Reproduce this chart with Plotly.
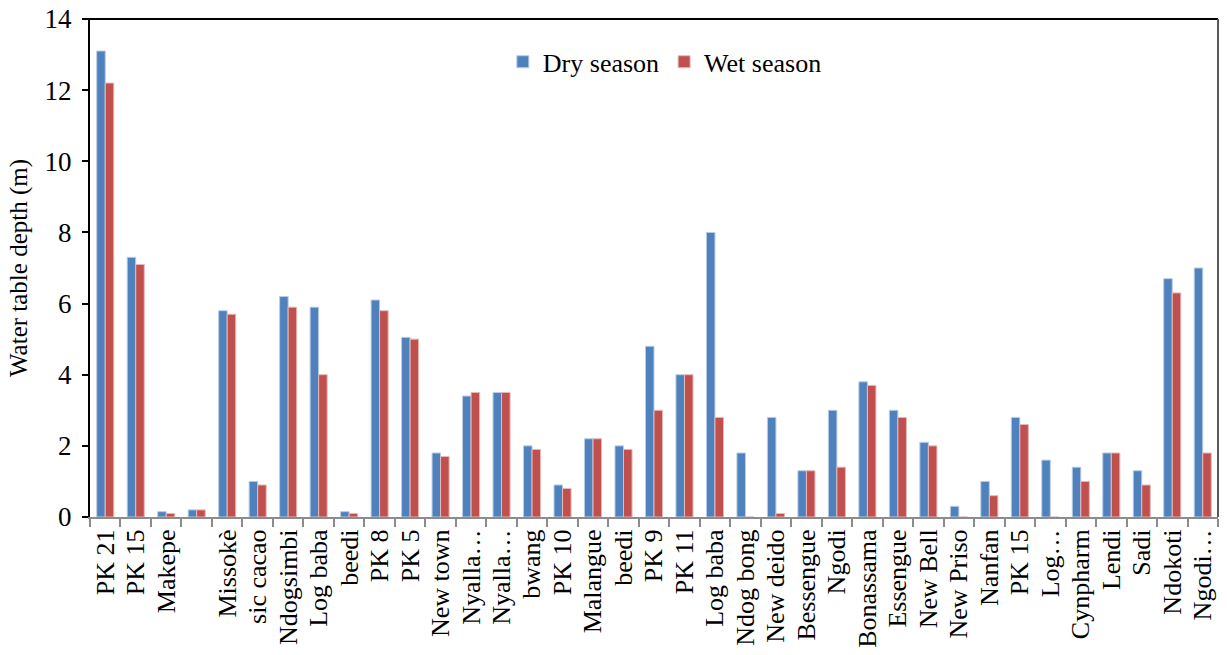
import plotly.graph_objects as go

categories = ["PK 21", "PK 15", "Makepe", "", "Missokè", "sic cacao", "Ndogsimbi", "Log baba",
              "beedi", "PK 8", "PK 5", "New town", "Nyalla…", "Nyalla…", "bwang", "PK 10",
              "Malangue", "beedi", "PK 9", "PK 11", "Log baba", "Ndog bong", "New deido",
              "Bessengue", "Ngodi", "Bonassama", "Essengue", "New Bell", "New Priso", "Nanfan",
              "PK 15", "Log…", "Cynpharm", "Lendi", "Sadi", "Ndokoti", "Ngodi…"]
dry_season = [13.1, 7.3, 0.15, 0.2, 5.8, 1.0, 6.2, 5.9, 0.15, 6.1, 5.05, 1.8, 3.4, 3.5, 2.0, 0.9,
              2.2, 2.0, 4.8, 4.0, 8.0, 1.8, 2.8, 1.3, 3.0, 3.8, 3.0, 2.1, 0.3, 1.0, 2.8, 1.6,
              1.4, 1.8, 1.3, 6.7, 7.0]
wet_season = [12.2, 7.1, 0.1, 0.2, 5.7, 0.9, 5.9, 4.0, 0.1, 5.8, 5.0, 1.7, 3.5, 3.5, 1.9, 0.8,
              2.2, 1.9, 3.0, 4.0, 2.8, 0.0, 0.1, 1.3, 1.4, 3.7, 2.8, 2.0, 0.0, 0.6, 2.6, 0.0,
              1.0, 1.8, 0.9, 6.3, 1.8]
y_ticks = [0, 2, 4, 6, 8, 10, 12, 14]

n = len(categories)
xpos = list(range(n))
FONT = "Liberation Serif"

fig = go.Figure()
fig.add_trace(go.Bar(x=xpos, y=dry_season, name="Dry season",
                     marker=dict(color="#4F81BD", line=dict(color="#B9CDE5", width=1))))
fig.add_trace(go.Bar(x=xpos, y=wet_season, name="Wet season",
                     marker=dict(color="#C0504D", line=dict(color="#E6B9B8", width=1))))

fig.update_layout(
    width=1227, height=655,
    margin=dict(l=90, r=9, t=19, b=138, autoexpand=False),
    paper_bgcolor="white", plot_bgcolor="white",
    barmode="group", bargap=0.44, bargroupgap=0,
    font=dict(family=FONT, size=26, color="black"),
    showlegend=True,
    legend=dict(orientation="h", x=0.366, y=0.914, xanchor="left", yanchor="middle",
                font=dict(family=FONT, size=26, color="black"), bgcolor="rgba(0,0,0,0)",
                itemwidth=30, tracegroupgap=0),
    xaxis=dict(range=[-0.5, n - 0.5], tickmode="array", tickvals=xpos, ticktext=categories,
               tickangle=-90, ticks="", showgrid=False, zeroline=False,
               showline=True, linecolor="#8C8C8C", linewidth=2,
               tickfont=dict(family=FONT, size=26, color="black"),
               minor=dict(tickmode="array", tickvals=[i - 0.5 for i in range(n + 1)],
                          ticks="outside", ticklen=8, tickcolor="#8C8C8C", tickwidth=2,
                          showgrid=False)),
    yaxis=dict(range=[0, 14], tickmode="array", tickvals=y_ticks, ticks="outside", ticklen=6,
               tickcolor="black", tickwidth=2, showgrid=False, zeroline=False,
               showline=True, linecolor="black", linewidth=2, ticklabelstandoff=5,
               tickfont=dict(family=FONT, size=27, color="black"),
               title=dict(text="Water table depth (m)", font=dict(family=FONT, size=25, color="black"),
                          standoff=10)),
)

fig.add_shape(type="line", xref="paper", yref="paper", x0=-0.005, x1=1, y0=1, y1=1,
              line=dict(color="black", width=2))
fig.add_shape(type="line", xref="paper", yref="paper", x0=1, x1=1, y0=0, y1=1,
              line=dict(color="#595959", width=2))

fig.write_html("out.html", config={"displayModeBar": False},
               post_script="document.body.style.margin='0';")
